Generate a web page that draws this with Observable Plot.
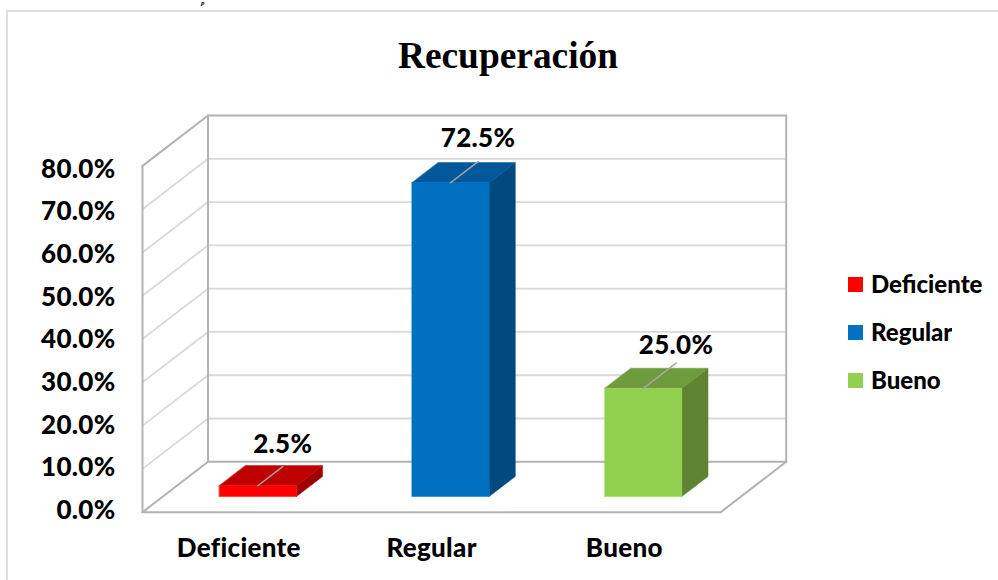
<!DOCTYPE html>
<html>
<head>
<meta charset="utf-8">
<script src="https://cdn.jsdelivr.net/npm/d3@7"></script>
<script src="https://cdn.jsdelivr.net/npm/@observablehq/plot@0.6"></script>
<style>
  html, body { margin: 0; padding: 0; background: #fff; }
  #page { position: relative; width: 998px; height: 580px; overflow: hidden; background: #fff; }
  #frame { position: absolute; left: 6px; top: 10px; width: 1100px; height: 700px; border: 2px solid #dedede; border-right: none; box-sizing: border-box; z-index: 2; pointer-events: none; }
  #title { position: absolute; left: 0; width: 1016px; top: 33.5px; text-align: center; font: bold 37.4px "Liberation Serif", serif; color: #000; z-index: 3; }
  #cut { position: absolute; left: 201px; top: 0; font: italic bold 7px/6px "Liberation Serif", serif; color: #000; z-index: 3; }
  #legend { position: absolute; left: 848px; top: 260px; z-index: 3; }
</style>
</head>
<body>
<div id="page">
  <div id="frame"></div>
  <div id="cut">p</div>
  <div id="title">Recuperación</div>
  <div id="legend"></div>
</div>
<script>
const categories = ["Deficiente", "Regular", "Bueno"];
const values = [2.5, 72.5, 25.0];
const frontColors = ["#ff0000", "#0070c0", "#92d050"];
const topColors = ["#bf0000", "#00589b", "#6e9c3c"];
const sideColors = ["#9c0000", "#004a80", "#5e8431"];
const yTicks = [0, 10, 20, 30, 40, 50, 60, 70, 80];
const labelDepths = [0.69, 0.73, 0.81];
const labelNudges = [0.2, 0.5, -0.7];

// Oblique projection, in data units of the two Plot scales
const depthX = 0.34;   // category widths for full depth
const depthY = 11.64;  // percentage points for full depth
const nCat = categories.length;
const barWidth = 0.4;
const barCentre = 0.493;
const barD0 = 0.31, barD1 = 0.71;
const proj = (c, v, d) => ({x: c + d * depthX, y: v + d * depthY});

const backGrid = yTicks.slice(1, -1).map(t => [proj(0, t, 1), proj(nCat, t, 1)]);
const wallGrid = yTicks.slice(1, -1).map(t => [proj(0, t, 0), proj(0, t, 1)]);
const gridRows = [...backGrid, ...wallGrid].flatMap((seg, i) => seg.map(p => ({...p, id: i})));

const edges = [
  [proj(0, 0, 0), proj(0, 80, 0)],
  [proj(0, 0, 1), proj(0, 80, 1)],
  [proj(nCat, 0, 1), proj(nCat, 80, 1)],
  [proj(0, 0, 0), proj(nCat, 0, 0)],
  [proj(0, 0, 0), proj(0, 0, 1)],
  [proj(nCat, 0, 0), proj(nCat, 0, 1)],
  [proj(0, 0, 1), proj(nCat, 0, 1)],
  [proj(0, 80, 0), proj(0, 80, 1)],
  [proj(0, 80, 1), proj(nCat, 80, 1)]
];
const edgeRows = edges.flatMap((seg, i) => seg.map(p => ({...p, id: i})));

const fronts = [], faces = [], leaders = [], labels = [];
categories.forEach((cat, i) => {
  const c = i + barCentre, a = c - barWidth / 2, b = c + barWidth / 2, v = values[i];
  [proj(a,0,barD0), proj(b,0,barD0), proj(b,v,barD0), proj(a,v,barD0)]
    .forEach(p => fronts.push({...p, cat}));
  [proj(b,0,barD0), proj(b,0,barD1), proj(b,v,barD1), proj(b,v,barD0)]
    .forEach(p => faces.push({...p, id: "s" + i, fill: sideColors[i]}));
  [proj(a,v,barD0), proj(b,v,barD0), proj(b,v,barD1), proj(a,v,barD1)]
    .forEach(p => faces.push({...p, id: "t" + i, fill: topColors[i]}));
  const p0 = proj(c, v, barD0), p1 = proj(c, v, labelDepths[i]);
  leaders.push({...p0, id: i}, {...p1, id: i});
  labels.push({x: p1.x, y: p1.y + labelNudges[i], label: v.toFixed(1) + "%"});
});

const fontFamily = "Lato, sans-serif";
const colorScale = {domain: categories, range: frontColors};

const plot = Plot.plot({
  width: 998, height: 580,
  marginLeft: 142, marginRight: 212.3, marginTop: 115, marginBottom: 68.3,
  x: {domain: [0, nCat + depthX]},
  y: {domain: [0, 80 + depthY]},
  color: colorScale,
  style: {fontFamily, background: "transparent", letterSpacing: "0.3px"},
  marks: [
    Plot.line(gridRows, {x: "x", y: "y", z: "id", stroke: "#d9d9d9", strokeWidth: 1.8}),
    Plot.line(edgeRows, {x: "x", y: "y", z: "id", stroke: "#b3b3b3", strokeWidth: 2}),
    Plot.line(faces, {x: "x", y: "y", z: "id", fill: "fill", stroke: "fill", strokeWidth: 0.5, curve: "linear-closed"}),
    Plot.line(fronts, {x: "x", y: "y", z: "cat", fill: "cat", stroke: "cat", strokeWidth: 0.5, curve: "linear-closed"}),
    Plot.line(leaders, {x: "x", y: "y", z: "id", stroke: "#a6a6a6", strokeWidth: 1.5}),
    Plot.text(labels, {x: "x", y: "y", text: "label", dy: -21, fontSize: 26, fontWeight: 900, fill: "#000", fontFamily}),
    Plot.axisY(yTicks, {y: t => 0.4 + t * 0.985, text: t => t.toFixed(1) + "%", tickSize: 0, tickPadding: 27, fontSize: 26, fontWeight: 900, color: "#000", label: null, fontFamily}),
    Plot.axisX({ticks: categories.map((_, i) => i + 0.5), tickFormat: d => categories[Math.floor(d)], tickSize: 0, tickPadding: 26, fontSize: 26, fontWeight: 900, color: "#000", label: null, fontFamily})
  ]
});
document.getElementById("page").appendChild(plot);
plot.style.position = "absolute";
plot.style.left = "0";
plot.style.top = "0";

const legend = Plot.legend({color: {...colorScale, type: "ordinal"}, columns: 1, swatchSize: 15});
document.getElementById("legend").appendChild(legend);
legend.style.font = '900 24px Lato, sans-serif';
legend.style.color = "#000";
legend.querySelectorAll("div").forEach(e => { e.style.lineHeight = "48px"; e.style.height = "48px"; e.style.paddingBottom = "0"; e.style.marginBottom = "0"; });
legend.querySelectorAll("svg").forEach(e => { e.style.marginRight = "8px"; });
</script>
</body>
</html>
